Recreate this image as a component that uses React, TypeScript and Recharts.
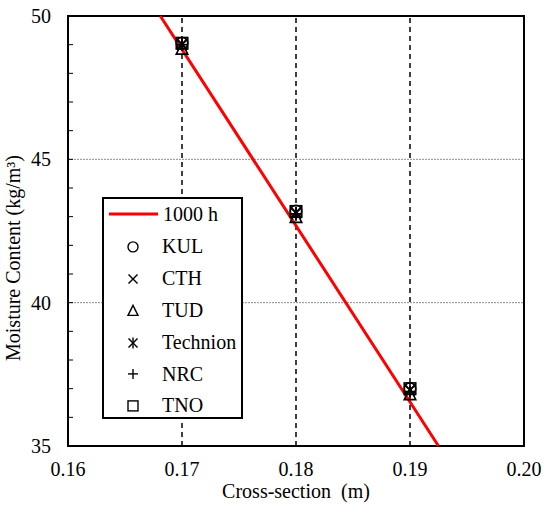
import React from "react"
import {
  ComposedChart,
  Scatter,
  XAxis,
  YAxis,
  ReferenceLine,
  ReferenceArea,
  Legend,
} from "recharts"

// measured sections and moisture contents per lab
const sections = [0.17, 0.18, 0.19]
const kulValues = [49.05, 43.2, 37.0]
const cthValues = [49.0, 43.15, 36.95]
const tudValues = [48.85, 42.98, 36.8]
const technionValues = [49.02, 43.12, 36.95]
const nrcValues = [49.0, 43.1, 36.9]
const tnoValues = [49.05, 43.18, 37.0]

// simulated 1000 h profile (end points)
const simX = [0.1681, 0.1925]
const simY = [50, 35]

const xTicks = [0.16, 0.17, 0.18, 0.19, 0.2]
const yTicks = [35, 36, 37, 38, 39, 40, 41, 42, 43, 44, 45, 46, 47, 48, 49, 50]
const gridX = [0.17, 0.18, 0.19]
const gridY = [40, 45]

type Kind = "circle" | "cross" | "triangle" | "star" | "plus" | "square"

const labs: { name: string; kind: Kind; values: number[] }[] = [
  { name: "KUL", kind: "circle", values: kulValues },
  { name: "CTH", kind: "cross", values: cthValues },
  { name: "TUD", kind: "triangle", values: tudValues },
  { name: "Technion", kind: "star", values: technionValues },
  { name: "NRC", kind: "plus", values: nrcValues },
  { name: "TNO", kind: "square", values: tnoValues },
]

const simData = simX.map((x, i) => ({ x, y: simY[i] }))

const FONT = "Liberation Serif"
const FS = 20

function Marker({ kind, cx, cy, k = 1 }: { kind: Kind; cx: number; cy: number; k?: number }) {
  const s = 5 * k
  const d = 4.5 * k
  const common = { stroke: "#000", strokeWidth: 1.4 * (k > 1 ? 1.15 : 1), fill: "none" }
  switch (kind) {
    case "circle":
      return <circle cx={cx} cy={cy} r={s} {...common} />
    case "cross":
      return (
        <g {...common}>
          <line x1={cx - d} y1={cy - d} x2={cx + d} y2={cy + d} />
          <line x1={cx - d} y1={cy + d} x2={cx + d} y2={cy - d} />
        </g>
      )
    case "triangle":
      return (
        <polygon
          points={`${cx},${cy - 5.5 * k} ${cx - s},${cy + d} ${cx + s},${cy + d}`}
          {...common}
        />
      )
    case "star":
      return (
        <g {...common}>
          <line x1={cx - d} y1={cy - d} x2={cx + d} y2={cy + d} />
          <line x1={cx - d} y1={cy + d} x2={cx + d} y2={cy - d} />
          <line x1={cx} y1={cy - 5.5 * k} x2={cx} y2={cy + 5.5 * k} />
        </g>
      )
    case "plus":
      return (
        <g {...common}>
          <line x1={cx - s} y1={cy} x2={cx + s} y2={cy} />
          <line x1={cx} y1={cy - s} x2={cx} y2={cy + s} />
        </g>
      )
    default:
      return <rect x={cx - s} y={cy - s} width={2 * s} height={2 * s} {...common} />
  }
}

function YTick(props: any) {
  const { x, y, payload } = props
  const v = payload.value
  return (
    <g>
      <line x1={x + 17} y1={y} x2={x + 22} y2={y} stroke="#000" strokeWidth={1} />
      {v % 5 === 0 && (
        <text x={x} y={y} dy="0.355em" textAnchor="end" fontSize={FS} fontFamily={FONT} fill="#000">
          {v}
        </text>
      )}
    </g>
  )
}

function XLabel(props: any) {
  const { x, y, width } = props.viewBox
  return (
    <text
      x={x + width / 2}
      y={y + 52}
      textAnchor="middle"
      fontSize={FS}
      fontFamily={FONT}
      fill="#000"
      style={{ whiteSpace: "pre" }}
    >
      {"Cross-section  (m)"}
    </text>
  )
}

function YLabel() {
  return (
    <text
      x={20}
      y={258}
      transform="rotate(-90 20 258)"
      textAnchor="middle"
      fontSize={FS}
      fontFamily={FONT}
      fill="#000"
    >
      Moisture Content (kg/m³)
    </text>
  )
}

function LegendBox() {
  const rowH = 31.8
  return (
    <div
      style={{
        boxSizing: "border-box",
        width: 141,
        height: 222,
        border: "2px solid #000",
        background: "#fff",
        fontFamily: FONT,
        fontSize: FS,
        color: "#000",
        position: "relative",
      }}
    >
      <div style={{ position: "absolute", left: 0, top: 14 - rowH / 2 + 1, height: rowH, display: "flex", alignItems: "center" }}>
        <svg width={58} height={rowH}>
          <line x1={5} y1={rowH / 2} x2={54} y2={rowH / 2} stroke="#ff0000" strokeWidth={3} />
        </svg>
        <span style={{ marginLeft: 1 }}>1000 h</span>
      </div>
      {labs.map((lab, i) => (
        <div
          key={lab.name}
          style={{
            position: "absolute",
            left: 0,
            top: 47 + i * rowH - rowH / 2 + 1,
            height: rowH,
            display: "flex",
            alignItems: "center",
          }}
        >
          <svg width={58} height={rowH}>
            <Marker kind={lab.kind} cx={29} cy={rowH / 2} />
          </svg>
          <span>{lab.name}</span>
        </div>
      ))}
    </div>
  )
}

export default function App() {
  return (
    <div style={{ position: "absolute", left: 0, top: 0, width: 550, height: 512, background: "#fff", fontFamily: FONT }}>
      <ComposedChart
        width={550}
        height={512}
        margin={{ top: 16, right: 26, left: 0, bottom: 0 }}
        style={{ fontFamily: FONT }}
      >
        <XAxis
          dataKey="x"
          type="number"
          domain={[0.16, 0.2]}
          ticks={xTicks}
          interval={0}
          tickFormatter={(v: number) => v.toFixed(2)}
          tickLine={false}
          tickSize={0}
          tickMargin={16}
          axisLine={{ stroke: "#000", strokeWidth: 2 }}
          tick={{ fontSize: FS, fill: "#000", fontFamily: FONT }}
          height={66}
          label={<XLabel />}
        />
        <YAxis
          dataKey="y"
          type="number"
          domain={[35, 50]}
          ticks={yTicks}
          interval={0}
          tickLine={false}
          tickSize={0}
          tickMargin={17}
          axisLine={{ stroke: "#000", strokeWidth: 2 }}
          tick={<YTick />}
          width={68}
          label={<YLabel />}
        />
        {gridY.map((v) => (
          <ReferenceLine key={`gy${v}`} y={v} stroke="#8c8c8c" strokeWidth={1} strokeDasharray="2 1" />
        ))}
        {gridX.map((v) => (
          <ReferenceLine key={`gx${v}`} x={v} stroke="#000" strokeWidth={1.5} strokeDasharray="5 4" />
        ))}
        <Scatter
          name="1000 h"
          data={simData}
          line={{ stroke: "#ff0000", strokeWidth: 3 }}
          lineType="joint"
          shape={() => <g />}
          isAnimationActive={false}
        />
        {labs.map((lab) => (
          <Scatter
            key={lab.name}
            name={lab.name}
            data={sections.map((x, i) => ({ x, y: lab.values[i] }))}
            shape={(p: any) => <Marker kind={lab.kind} cx={p.cx} cy={p.cy} k={1.15} />}
            isAnimationActive={false}
          />
        ))}
        <ReferenceArea
          x1={0.16}
          x2={0.2}
          y1={35}
          y2={50}
          fill="none"
          stroke="#000"
          strokeWidth={2}
          ifOverflow="visible"
        />
        <Legend
          layout="vertical"
          align="center"
          verticalAlign="middle"
          content={() => <LegendBox />}
          wrapperStyle={{ left: 102, top: 197, width: 141, height: 222 }}
        />
      </ComposedChart>
    </div>
  )
}
